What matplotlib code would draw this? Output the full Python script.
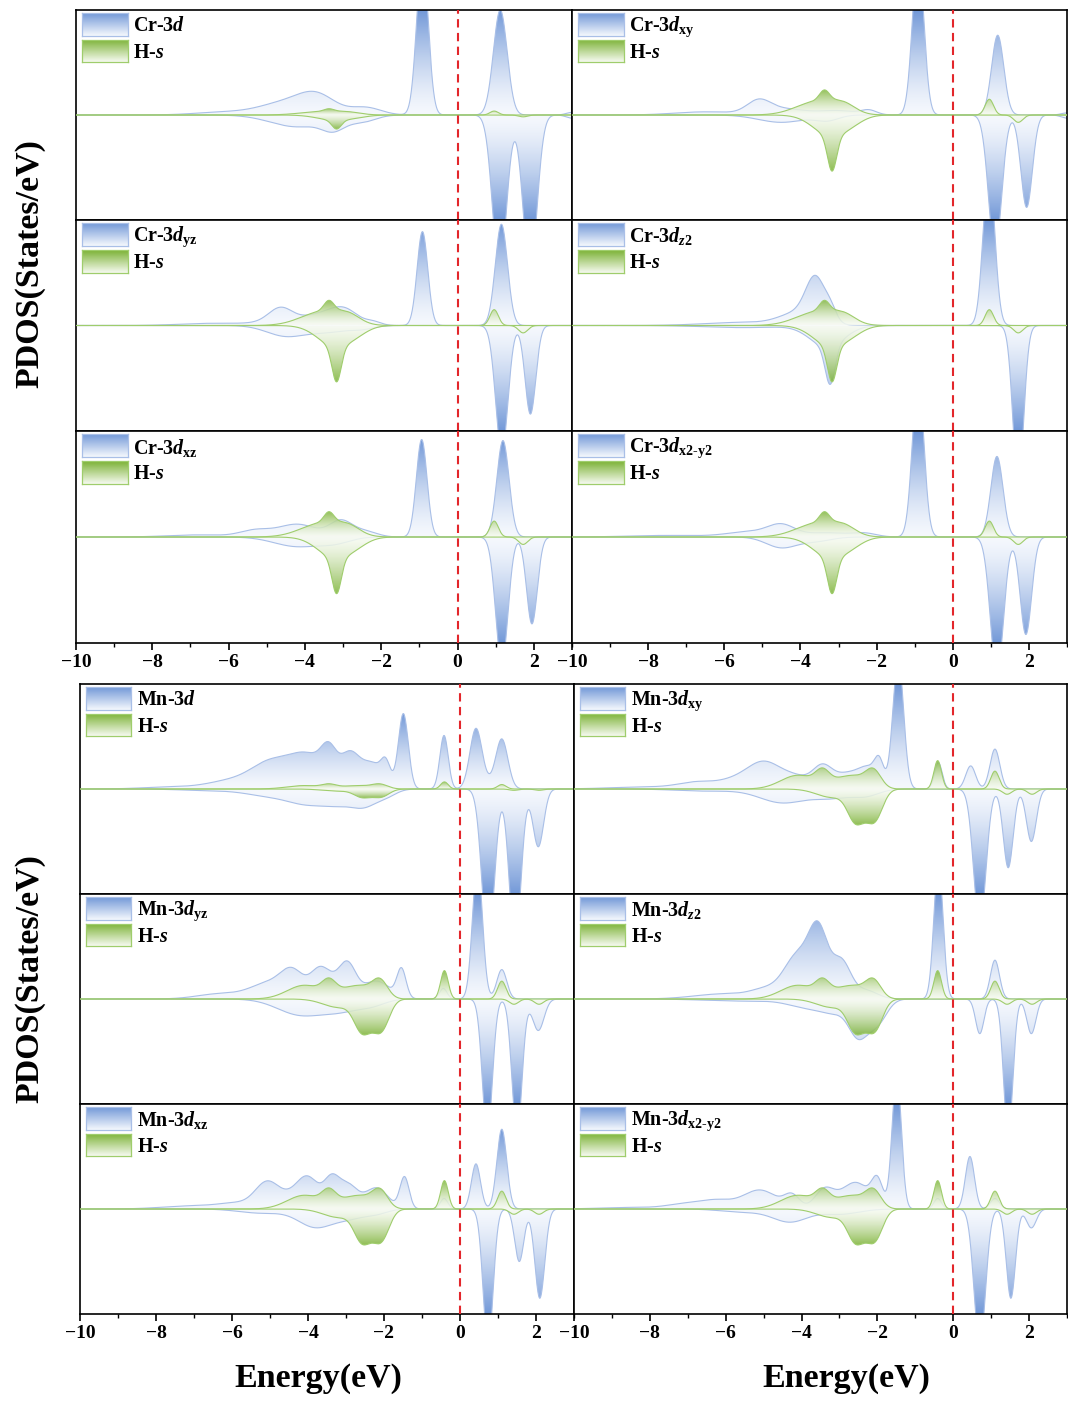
import numpy as np
import matplotlib
matplotlib.use("Agg")
import matplotlib.pyplot as plt
from matplotlib.colors import LinearSegmentedColormap
from matplotlib.ticker import MultipleLocator

plt.rcParams['font.family'] = 'Liberation Serif'
plt.rcParams['font.weight'] = 'bold'
plt.rcParams['mathtext.fontset'] = 'custom'
plt.rcParams['mathtext.rm'] = 'Liberation Serif:bold'
plt.rcParams['mathtext.it'] = 'Liberation Serif:italic:bold'
plt.rcParams['mathtext.bf'] = 'Liberation Serif:bold'

# Broadened PDOS peaks: (centre in eV, height, width in eV)
# spin up drawn above zero, spin down below. Total-d panels use a 4x wider y range.

# ---- Cr block ----
cr_hs_up = [(-3.37, 0.10, 0.13), (-3.55, 0.13, 0.55), (-2.85, 0.07, 0.3), (0.96, 0.15, 0.11)]
cr_hs_dn = [(-3.17, 0.33, 0.12), (-3.2, 0.2, 0.45), (-2.6, 0.03, 0.3), (1.72, 0.07, 0.12)]

cr_d_up = [(-3.7, 0.75, 0.5), (-4.6, 0.4, 0.6), (-2.4, 0.28, 0.4), (-6.0, 0.12, 0.8),
           (-0.92, 6.0, 0.15), (1.12, 4.0, 0.18), (3.0, 0.1, 0.15)]
cr_d_dn = [(-3.25, 0.45, 0.3), (-4.2, 0.45, 0.7), (-2.5, 0.25, 0.35),
           (1.1, 6.0, 0.18), (1.9, 6.0, 0.18), (3.0, 0.12, 0.15)]

cr_dxy_up = [(-5.1, 0.11, 0.3), (-4.5, 0.06, 0.6), (-6.5, 0.03, 0.8), (-3.0, 0.04, 0.5),
             (-2.2, 0.04, 0.2), (-0.91, 1.5, 0.15), (1.18, 0.76, 0.16), (3.0, 0.02, 0.15)]
cr_dxy_dn = [(-4.5, 0.07, 0.6), (-3.3, 0.05, 0.3), (1.11, 1.3, 0.17), (1.94, 0.88, 0.15),
             (3.0, 0.03, 0.15)]

cr_dyz_up = [(-4.65, 0.12, 0.3), (-4.2, 0.06, 0.8), (-2.95, 0.13, 0.35), (-3.5, 0.06, 0.4),
             (-2.2, 0.03, 0.2), (-6.5, 0.02, 0.8), (-0.92, 0.89, 0.14), (1.15, 0.96, 0.16)]
cr_dyz_dn = [(-4.5, 0.1, 0.5), (-3.4, 0.06, 0.5), (-2.5, 0.03, 0.3),
             (1.16, 1.2, 0.16), (1.91, 0.84, 0.14)]

cr_dz2_up = [(-3.6, 0.38, 0.25), (-4.0, 0.12, 0.5), (-5.5, 0.03, 1.0),
             (-3.2, 0.1, 0.15), (0.95, 1.5, 0.15)]
cr_dz2_dn = [(-3.22, 0.36, 0.13), (-3.3, 0.2, 0.45), (-5.5, 0.02, 1.0), (1.72, 1.5, 0.14)]

cr_dxz_up = [(-4.2, 0.12, 0.5), (-5.3, 0.06, 0.4), (-3.05, 0.15, 0.3), (-2.4, 0.05, 0.3),
             (-6.8, 0.02, 0.8), (-0.94, 0.92, 0.14), (1.19, 0.91, 0.16)]
cr_dxz_dn = [(-4.2, 0.09, 0.6), (-3.2, 0.05, 0.4), (1.16, 1.2, 0.16), (1.95, 0.82, 0.14)]

cr_dx2y2_up = [(-4.5, 0.1, 0.35), (-5.3, 0.05, 0.6), (-3.3, 0.04, 0.6), (-2.3, 0.03, 0.3),
               (-7.5, 0.015, 1.0), (-0.91, 1.5, 0.15), (1.16, 0.76, 0.16)]
cr_dx2y2_dn = [(-4.5, 0.1, 0.4), (-3.6, 0.04, 0.4), (1.16, 1.3, 0.17), (1.92, 0.92, 0.15)]

# ---- Mn block ----
mn_hs_up = [(-4.1, 0.13, 0.45), (-3.45, 0.12, 0.18), (-2.9, 0.09, 0.4), (-2.5, 0.06, 0.3),
            (-2.1, 0.16, 0.2), (-0.41, 0.27, 0.1), (1.1, 0.17, 0.11)]
mn_hs_dn = [(-3.2, 0.08, 0.4), (-2.6, 0.25, 0.2), (-2.33, 0.12, 0.2), (-2.05, 0.26, 0.2),
            (1.42, 0.05, 0.12), (2.08, 0.05, 0.12)]

mn_d_up = [(-7.5, 0.08, 0.8), (-6.0, 0.3, 0.6), (-5.0, 0.9, 0.5), (-4.0, 1.25, 0.5),
           (-3.45, 1.0, 0.2), (-2.9, 1.2, 0.25), (-2.3, 0.95, 0.3), (-1.95, 0.7, 0.12),
           (-1.49, 2.85, 0.13), (-0.42, 2.04, 0.11), (0.42, 2.3, 0.16), (0.75, 0.15, 0.15),
           (1.1, 1.9, 0.16)]
mn_d_dn = [(-5.0, 0.25, 0.6), (-4.0, 0.5, 0.5), (-3.2, 0.45, 0.4), (-2.5, 0.6, 0.35),
           (-1.9, 0.2, 0.25), (-6.5, 0.06, 0.8), (0.74, 6.0, 0.16), (1.45, 6.0, 0.15),
           (2.06, 2.2, 0.14)]

mn_dxy_up = [(-8.0, 0.02, 1.0), (-6.7, 0.06, 0.5), (-5.8, 0.06, 0.4), (-5.0, 0.25, 0.45),
             (-4.1, 0.1, 0.4), (-3.45, 0.18, 0.25), (-2.75, 0.15, 0.4), (-2.2, 0.15, 0.25),
             (-1.95, 0.2, 0.12), (-1.45, 1.25, 0.14), (-0.39, 0.25, 0.1), (0.46, 0.22, 0.13),
             (1.1, 0.38, 0.13)]
mn_dxy_dn = [(-4.5, 0.13, 0.6), (-3.2, 0.08, 0.5), (-2.3, 0.06, 0.35), (-6.5, 0.02, 0.8),
             (0.7, 1.3, 0.16), (1.45, 0.75, 0.13), (2.06, 0.5, 0.13)]

mn_dyz_up = [(-6.3, 0.05, 0.6), (-5.0, 0.15, 0.5), (-4.4, 0.22, 0.3), (-3.7, 0.24, 0.25),
             (-2.95, 0.28, 0.22), (-3.3, 0.12, 0.3), (-2.2, 0.17, 0.35), (-1.54, 0.27, 0.12),
             (-0.44, 0.1, 0.1), (0.46, 1.3, 0.13), (1.1, 0.28, 0.13)]
mn_dyz_dn = [(-4.2, 0.15, 0.6), (-3.1, 0.1, 0.5), (-2.3, 0.05, 0.35),
             (0.72, 1.3, 0.13), (1.5, 1.3, 0.13), (2.06, 0.3, 0.15)]

mn_dz2_up = [(-6.0, 0.05, 0.8), (-4.9, 0.08, 0.4), (-4.1, 0.4, 0.35), (-3.55, 0.6, 0.25),
             (-2.95, 0.35, 0.25), (-2.3, 0.08, 0.3), (-0.39, 1.3, 0.12), (1.1, 0.37, 0.12)]
mn_dz2_dn = [(-5.5, 0.02, 1.0), (-3.8, 0.08, 0.5), (-3.1, 0.1, 0.35), (-2.5, 0.33, 0.25),
             (-2.0, 0.22, 0.25), (0.7, 0.33, 0.11), (1.45, 1.3, 0.12), (2.06, 0.33, 0.12)]

mn_dxz_up = [(-7.0, 0.03, 0.8), (-5.1, 0.2, 0.3), (-5.8, 0.05, 0.5), (-4.0, 0.28, 0.3),
             (-4.6, 0.1, 0.4), (-3.38, 0.25, 0.2), (-2.95, 0.22, 0.25), (-2.2, 0.2, 0.3),
             (-1.46, 0.3, 0.12), (-0.42, 0.1, 0.1), (0.42, 0.43, 0.12), (1.1, 0.76, 0.13)]
mn_dxz_dn = [(-5.2, 0.04, 0.6), (-3.8, 0.17, 0.45), (-2.9, 0.08, 0.4), (-2.2, 0.04, 0.3),
             (0.74, 1.3, 0.13), (1.56, 0.5, 0.12), (2.1, 0.85, 0.13)]

mn_dx2y2_up = [(-8.5, 0.015, 0.8), (-7.0, 0.05, 0.5), (-6.2, 0.07, 0.4), (-5.1, 0.18, 0.45),
               (-4.25, 0.12, 0.2), (-3.4, 0.18, 0.25), (-2.7, 0.18, 0.35), (-2.0, 0.25, 0.15),
               (-2.4, 0.1, 0.3), (-1.49, 1.3, 0.12), (-0.41, 0.1, 0.1), (0.44, 0.5, 0.12),
               (1.1, 0.1, 0.12)]
mn_dx2y2_dn = [(-4.3, 0.12, 0.45), (-5.5, 0.03, 0.6), (-3.0, 0.05, 0.5),
               (0.7, 1.3, 0.15), (1.52, 0.85, 0.12), (2.06, 0.18, 0.13)]

cr_labels = ['Cr-3$d$', 'Cr-3$d_{\\mathrm{xy}}$', 'Cr-3$d_{\\mathrm{yz}}$',
             'Cr-3$d_{z2}$', 'Cr-3$d_{\\mathrm{xz}}$', 'Cr-3$d_{\\mathrm{x2\\text{-}y2}}$']
mn_labels = ['Mn-3$d$', 'Mn-3$d_{\\mathrm{xy}}$', 'Mn-3$d_{\\mathrm{yz}}$',
             'Mn-3$d_{z2}$', 'Mn-3$d_{\\mathrm{xz}}$', 'Mn-3$d_{\\mathrm{x2\\text{-}y2}}$']
hs_label = 'H-$s$'

energy = np.linspace(-10, 3, 2600)

blue_cmap = LinearSegmentedColormap.from_list('b', ['#f5f8fd', '#7399d8'])
green_cmap = LinearSegmentedColormap.from_list('g', ['#f6faf0', '#7cb236'])
blue_line = '#a9bfe7'
green_line = '#9fcd6c'


def dos(peaks):
    y = np.zeros_like(energy)
    for c, h, w in peaks:
        y += h * np.exp(-0.5 * ((energy - c) / w) ** 2)
    return y


def grad_fill(ax, y, cmap, ymax, z, alpha=1.0):
    top = min(np.abs(y).max(), ymax)
    if top <= 0:
        return
    sign = 1 if y.max() >= -y.min() else -1
    poly = ax.fill_between(energy, 0, y, facecolor='none', edgecolor='none')
    # colour deepens away from the zero line
    grad = (np.linspace(0, 1, 256) ** 1.4).reshape(-1, 1)
    img = ax.imshow(grad, extent=[energy[0], energy[-1], 0, sign * top], origin='lower',
                    cmap=cmap, vmin=0, vmax=1, aspect='auto', zorder=z, alpha=alpha,
                    interpolation='bilinear')
    img.set_clip_path(poly.get_paths()[0], ax.transData)


def legend_box(ax, cmap, edge, y0):
    box = ax.inset_axes([0.0127, y0, 0.0915, 0.108])
    box.imshow(np.linspace(0, 1, 64).reshape(-1, 1), origin='lower', cmap=cmap, aspect='auto')
    box.set_xticks([])
    box.set_yticks([])
    for s in box.spines.values():
        s.set_color(edge)
        s.set_linewidth(0.9)


def draw_panel(ax, label, d_up, d_dn, hs_up, hs_dn, ymax, bottom_row):
    for peaks, sign in ((d_up, 1), (d_dn, -1)):
        y = sign * dos(peaks)
        grad_fill(ax, y, blue_cmap, ymax, 1)
        ax.plot(energy, y, color=blue_line, lw=0.8, zorder=2)
    for peaks, sign in ((hs_up, 1), (hs_dn, -1)):
        y = sign * dos(peaks)
        grad_fill(ax, y, green_cmap, ymax, 3, alpha=0.85)
        ax.plot(energy, y, color=green_line, lw=0.8, zorder=4)
    ax.axvline(0, color='#e3262b', lw=1.5, ls=(0, (4, 2.6)), zorder=5)
    ax.set_xlim(-10, 3)
    ax.set_ylim(-ymax, ymax)
    ax.set_yticks([])
    for s in ax.spines.values():
        s.set_linewidth(1.2)
    if bottom_row:
        ax.set_xticks(range(-10, 3, 2))
        ax.xaxis.set_minor_locator(MultipleLocator(1))
        ax.tick_params(axis='x', which='major', direction='out', length=5, width=1.2,
                       labelsize=14, pad=3)
        ax.tick_params(axis='x', which='minor', direction='out', length=3, width=1.0)
    else:
        ax.tick_params(axis='x', which='both', bottom=False, labelbottom=False)

    legend_box(ax, blue_cmap, blue_line, 0.876)
    legend_box(ax, green_cmap, green_line, 0.751)
    ax.text(0.1155, 0.922, label, transform=ax.transAxes, va='center', ha='left',
            fontsize=14.4, zorder=6)
    ax.text(0.1155, 0.797, hs_label, transform=ax.transAxes, va='center', ha='left',
            fontsize=14.4, zorder=6)


W, H = 1068, 1403
fig = plt.figure(figsize=(W / 100, H / 100), dpi=100)


def add_axes_px(left, top, right, bottom):
    return fig.add_axes([left / W, 1 - bottom / H, (right - left) / W, (bottom - top) / H])


cr_up = [cr_d_up, cr_dxy_up, cr_dyz_up, cr_dz2_up, cr_dxz_up, cr_dx2y2_up]
cr_dn = [cr_d_dn, cr_dxy_dn, cr_dyz_dn, cr_dz2_dn, cr_dxz_dn, cr_dx2y2_dn]
mn_up = [mn_d_up, mn_dxy_up, mn_dyz_up, mn_dz2_up, mn_dxz_up, mn_dx2y2_up]
mn_dn = [mn_d_dn, mn_dxy_dn, mn_dyz_dn, mn_dz2_dn, mn_dxz_dn, mn_dx2y2_dn]

blocks = [
    ([(76, 572), (572, 1067)], [(10, 220), (220, 431), (431, 643)],
     cr_labels, cr_up, cr_dn, cr_hs_up, cr_hs_dn),
    ([(80, 574), (574, 1067)], [(684, 894), (894, 1104), (1104, 1314)],
     mn_labels, mn_up, mn_dn, mn_hs_up, mn_hs_dn),
]

for cols, rows, labels, ups, dns, hs_up, hs_dn in blocks:
    for i in range(6):
        r, c = divmod(i, 2)
        ax = add_axes_px(cols[c][0], rows[r][0], cols[c][1], rows[r][1])
        ymax = 4.0 if i == 0 else 1.0
        draw_panel(ax, labels[i], ups[i], dns[i], hs_up, hs_dn, ymax, r == 2)

fig.text(30 / W, 1 - 264 / H, 'PDOS(States/eV)', rotation=90, ha='center', va='center',
         fontsize=24.5)
fig.text(30 / W, 1 - 979 / H, 'PDOS(States/eV)', rotation=90, ha='center', va='center',
         fontsize=24.5)
fig.text(318 / W, 1 - 1378 / H, 'Energy(eV)', ha='center', va='center', fontsize=24.5)
fig.text(846 / W, 1 - 1378 / H, 'Energy(eV)', ha='center', va='center', fontsize=24.5)

fig.savefig('out.png', dpi=100)
